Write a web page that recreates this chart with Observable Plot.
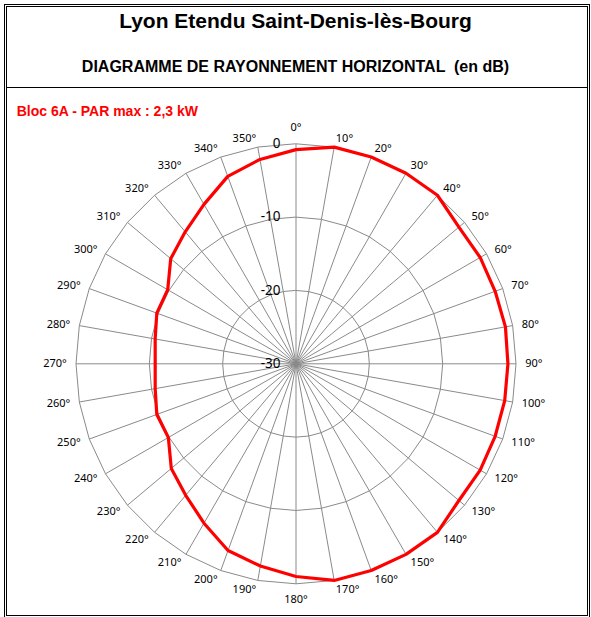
<!DOCTYPE html>
<html>
<head>
<meta charset="utf-8">
<script src="https://cdn.jsdelivr.net/npm/d3@7"></script>
<script src="https://cdn.jsdelivr.net/npm/@observablehq/plot@0.6"></script>
<style>
  html, body { margin: 0; padding: 0; background: #fff; }
  body { width: 591px; height: 617px; position: relative; overflow: hidden; }
  #frame { position: absolute; left: 4px; top: 4px; width: 586px; height: 614px; box-sizing: border-box; border: 3px double #000; }
  #divider { position: absolute; left: 7px; width: 580px; top: 86.5px; height: 0; border-top: 1.5px solid #000; }
  .t { position: absolute; font-family: "Liberation Sans", Arial, sans-serif; font-weight: bold; line-height: 1; white-space: pre; }
  #title { left: 0; width: 591px; text-align: center; top: 9.5px; font-size: 21px; color: #000; }
  #subtitle { left: 0; width: 591px; text-align: center; top: 59.2px; font-size: 16px; color: #000; }
  #label { left: 16.7px; top: 104.2px; font-size: 14px; color: #ff0000; }
  #chart { position: absolute; left: 0; top: 90px; }
</style>
</head>
<body>
<div id="frame"></div>
<div id="divider"></div>
<div class="t" id="title">Lyon Etendu Saint-Denis-lès-Bourg</div>
<div class="t" id="subtitle">DIAGRAMME DE RAYONNEMENT HORIZONTAL  (en dB)</div>
<div class="t" id="label">Bloc 6A - PAR max : 2,3 kW</div>
<div id="chart"></div>
<script>
// Azimuths (degrees, clockwise from north)
const angles = [0, 10, 20, 30, 40, 50, 60, 70, 80, 90, 100, 110, 120, 130, 140, 150, 160, 170,
                180, 190, 200, 210, 220, 230, 240, 250, 260, 270, 280, 290, 300, 310, 320, 330, 340, 350];
// Attenuation in dB for each azimuth
const levels = [-0.8, 0, 0, 0, 0, -1.0, -1.0, -1.1, -1.0, -1.1, -1.1, -1.1, -1.0, -1.0, 0, 0, 0, 0,
                -1.0, -2.0, -2.9, -4.9, -6.6, -7.8, -9.9, -9.8, -10.5, -10.8, -10.5, -9.8, -9.8, -7.7, -6.5, -4.9, -2.8, -1.7];
// Radial grid levels (dB)
const rings = [-30, -20, -10, 0];
const angleLabels = angles.map(a => a + "°");

const MIN = d3.min(rings), MAX = d3.max(rings);
const rho = v => v - MIN;
const rad = a => a * Math.PI / 180;
const px = (a, v) => rho(v) * Math.sin(rad(a));
const py = (a, v) => rho(v) * Math.cos(rad(a));

const pattern = angles.map((a, i) => ({a, v: levels[i]}));
const ringPts = rings.filter(r => r > MIN).flatMap(r => angles.map(a => ({a, r})));
const labels = angles.map((a, i) => ({a, text: angleLabels[i]}));
const labelPos = 31.25, labelPosV = 32.2;

const chartFont = '"Liberation Sans Narrow", "Noto Sans", sans-serif';

const plot = Plot.plot({
  width: 591,
  height: 527,
  margin: 0,
  x: {domain: [-(MAX - MIN), MAX - MIN], range: [75.5, 515.5], axis: null},
  y: {domain: [-(MAX - MIN), MAX - MIN], range: [493.3, 53.3], axis: null},
  style: {background: "transparent", overflow: "visible", fontFamily: chartFont},
  marks: [
    Plot.link(angles, {
      x1: a => px(a, MIN), y1: a => py(a, MIN),
      x2: a => px(a, MAX), y2: a => py(a, MAX),
      stroke: "#8a8a8a", strokeWidth: 1
    }),
    Plot.line(ringPts, {
      x: d => px(d.a, d.r), y: d => py(d.a, d.r), z: "r",
      curve: "linear-closed", stroke: "#8a8a8a", strokeWidth: 1
    }),
    Plot.line(pattern, {
      x: d => px(d.a, d.v), y: d => py(d.a, d.v),
      curve: "linear-closed", stroke: "#ff0000", strokeWidth: 3.2, strokeLinejoin: "miter"
    }),
    Plot.text(rings, {
      x: 0, y: r => rho(r), text: r => String(r),
      textAnchor: "end", dx: -15.5, fontSize: 13.5, fill: "#000"
    }),
    Plot.text(labels.filter(d => d.a > 0 && d.a < 180), {
      x: d => labelPos * Math.sin(rad(d.a)), y: d => labelPos * Math.cos(rad(d.a)),
      text: "text", textAnchor: "start", fontSize: 11, fill: "#000"
    }),
    Plot.text(labels.filter(d => d.a > 180), {
      x: d => labelPos * Math.sin(rad(d.a)), y: d => labelPos * Math.cos(rad(d.a)),
      text: "text", textAnchor: "end", fontSize: 11, fill: "#000"
    }),
    Plot.text(labels.filter(d => d.a === 0 || d.a === 180), {
      x: d => labelPosV * Math.sin(rad(d.a)), y: d => labelPosV * Math.cos(rad(d.a)),
      text: "text", textAnchor: "middle", fontSize: 11, fill: "#000"
    })
  ]
});
document.getElementById("chart").appendChild(plot);
</script>
</body>
</html>
